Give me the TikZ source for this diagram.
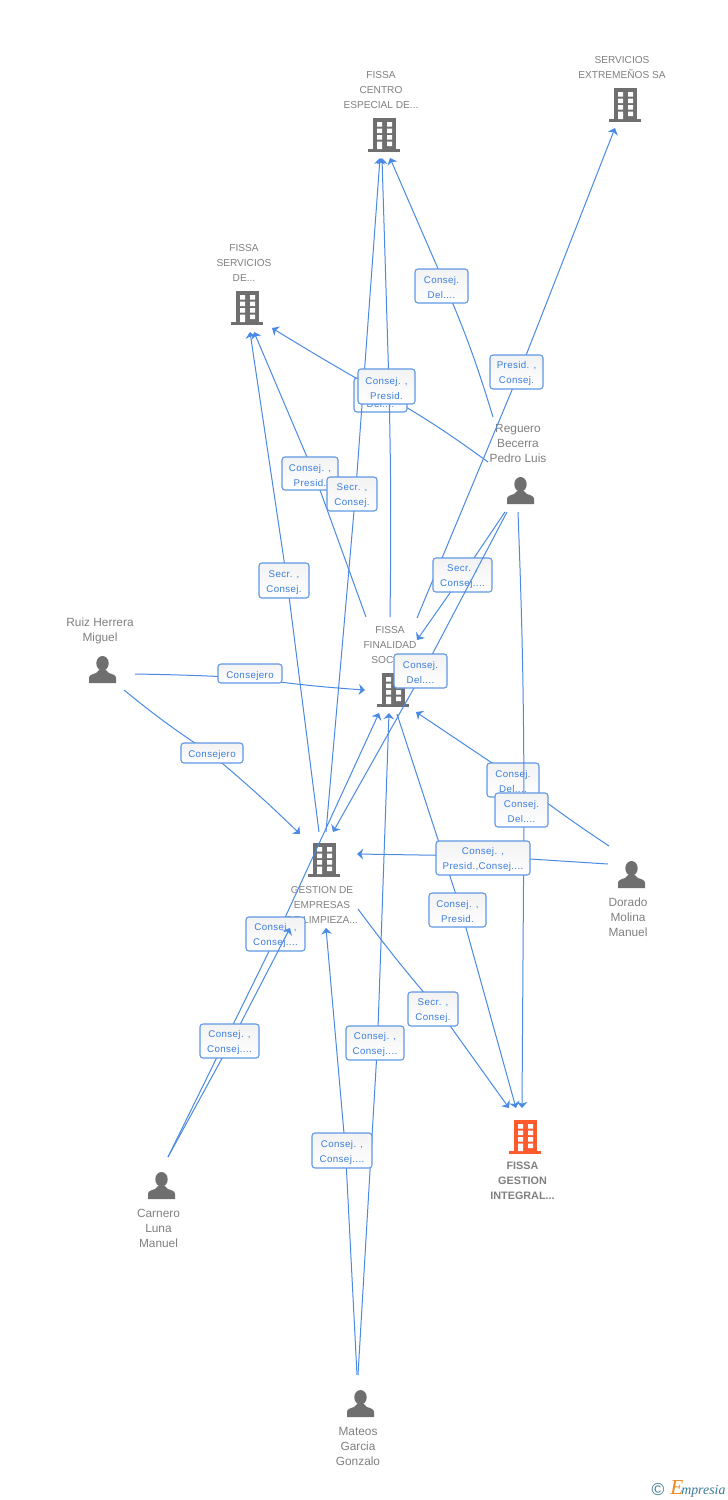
\documentclass[tikz,border=0pt]{standalone}
\usepackage{fontspec}
\setmainfont{Liberation Sans}
\newfontfamily\labfont[LetterSpace=4]{Liberation Sans}
\newfontfamily\logofont{Liberation Serif}
\usetikzlibrary{arrows.meta}
\definecolor{linkblue}{HTML}{4A8AE4}
\definecolor{labtext}{HTML}{3B7DDD}
\definecolor{labborder}{HTML}{5F97E4}
\definecolor{icongray}{HTML}{6F6F6F}
\definecolor{nametext}{HTML}{808080}
\definecolor{targetred}{HTML}{FF5A2C}
\definecolor{logoteal}{HTML}{3A7A94}
\definecolor{logoorange}{HTML}{F08A1D}
\pgfdeclarelayer{e1}\pgfdeclarelayer{l1}\pgfdeclarelayer{e2}\pgfdeclarelayer{l2}
\pgfdeclarelayer{e3}\pgfdeclarelayer{l3}\pgfdeclarelayer{e4}\pgfdeclarelayer{l4}
\pgfdeclarelayer{e5}\pgfdeclarelayer{l5}\pgfdeclarelayer{e6}\pgfdeclarelayer{l6}
\pgfdeclarelayer{e7}\pgfdeclarelayer{l7}\pgfdeclarelayer{e8}\pgfdeclarelayer{l8}
\pgfdeclarelayer{e9}\pgfdeclarelayer{l9}\pgfdeclarelayer{e10}\pgfdeclarelayer{l10}
\pgfdeclarelayer{e11}\pgfdeclarelayer{l11}\pgfdeclarelayer{e12}\pgfdeclarelayer{l12}
\pgfdeclarelayer{e13}\pgfdeclarelayer{l13}\pgfdeclarelayer{e14}\pgfdeclarelayer{l14}
\pgfdeclarelayer{e15}\pgfdeclarelayer{l15}\pgfdeclarelayer{e16}\pgfdeclarelayer{l16}
\pgfdeclarelayer{e17}\pgfdeclarelayer{l17}\pgfdeclarelayer{e18}\pgfdeclarelayer{l18}
\pgfdeclarelayer{e19}\pgfdeclarelayer{l19}\pgfdeclarelayer{e20}\pgfdeclarelayer{l20}
\pgfsetlayers{main,e1,l1,e2,l2,e3,l3,e4,l4,e5,l5,e6,l6,e7,l7,e8,l8,e9,l9,e10,l10,e11,l11,e12,l12,e13,l13,e14,l14,e15,l15,e16,l16,e17,l17,e18,l18,e19,l19,e20,l20}
\tikzset{
  linkline/.style={draw=linkblue,line width=0.75pt},
  linktip/.style={linkline,-{Stealth[length=4.6pt,width=8pt,inset=1.4pt]}},
  relbox/.style={draw=labborder,line width=0.8pt,rounded corners=2.2pt,top color=black!5,bottom color=white,
    text=labtext,inner sep=0pt,align=center,font=\labfont\fontsize{7.3}{11.25}\selectfont},
  entity/.style={text=nametext,inner sep=0pt,align=center,font=\fontsize{7.6}{11.25}\selectfont},
  entitybold/.style={entity,font=\bfseries\fontsize{8.1}{11.25}\selectfont},
  personname/.style={text=nametext,inner sep=0pt,align=center,font=\fontsize{8.9}{11.25}\selectfont},
}
\newcommand\liftA{\rule{0pt}{8.3pt}}
\newcommand\liftB{\rule{0pt}{7.8pt}}
\newcommand\relbox[6]{% layer, x0,y0,x1,y1, text
  \begin{pgfonlayer}{l#1}
  \node[relbox,minimum width={(#4-#2)*0.75pt},minimum height={(#5-#3)*0.75pt}] (L#1) at ({(#2+#4)/2},{(#3+#5)/2}) {#6};
  \end{pgfonlayer}}
\newcommand\relline[6]{% layer, start, bend in, bend out, end, offset of the crossing point from the box centre
  \begin{pgfonlayer}{e#1}
  \draw[linkline] (#2) to[#3] ([shift={(#6)}]L#1.center);
  \draw[linktip] ([shift={(#6)}]L#1.center) to[#4] (#5);
  \end{pgfonlayer}}
\newcommand\buildingicon[4]{% name, x, y, colour
  \begin{scope}[shift={(#2,#3)}]
  \fill[#4] (5,0) rectangle (28,31);
  \fill[#4] (0,31) rectangle (32,34);
  \fill[white] (9,4) rectangle (14,8.5) (19,4) rectangle (24,8.5)
    (9,10.5) rectangle (14,15) (19,10.5) rectangle (24,15)
    (9,17) rectangle (14,21.5) (19,17) rectangle (24,21.5)
    (9,23.5) rectangle (14,31) (19,23.5) rectangle (24,28);
  \coordinate (#1) at (16,17);
  \end{scope}}
\newcommand\personicon[3]{% name, x, y
  \begin{scope}[shift={(#2,#3)}]
  \fill[icongray] (13.5,7.3) ellipse (6.2 and 7.3);
  \fill[icongray] (0,27) -- (0,22) .. controls (0,19) and (3,18.5) .. (7,17) -- (10,14) -- (17,14) -- (20,17)
     .. controls (24,18.5) and (27,19) .. (27,22) -- (27,27) -- cycle;
  \coordinate (#1) at (13.5,13.5);
  \end{scope}}
\begin{document}
\begin{tikzpicture}[x=0.75pt,y=-0.75pt]
\useasboundingbox (0,0) rectangle (728,1500);
\fill[white] (0,0) rectangle (728,1500);
% entities
\buildingicon{iCentro}{368}{118}{icongray}
\buildingicon{iServ}{231}{291}{icongray}
\buildingicon{iExtr}{609}{88}{icongray}
\buildingicon{iFinal}{377}{673}{icongray}
\buildingicon{iGest}{308}{843}{icongray}
\buildingicon{iInteg}{509}{1120}{targetred}
\personicon{iRuiz}{89}{656}
\personicon{iReg}{507}{477}
\personicon{iDor}{618}{861}
\personicon{iCarn}{148}{1172}
\personicon{iMat}{347}{1390}
\node[entity] (tCentro) at (381,90) {FISSA\\CENTRO\\ESPECIAL DE...};
\node[entity] (tExtr) at (622,67.5) {SERVICIOS\\EXTREMEÑOS SA};
\node[entity] (tServ) at (244,263) {FISSA\\SERVICIOS\\DE...};
\node[entity] (tFinal) at (390,645) {FISSA\\FINALIDAD\\SOCIAL};
\node[entity] (tGest) at (322,905) {GESTION DE\\EMPRESAS\\DE LIMPIEZA...};
\node[entitybold] (tInteg) at (522.5,1181) {FISSA\\GESTION\\INTEGRAL...};
\node[personname] (tRuiz) at (100,630.5) {Ruiz Herrera\\Miguel};
\node[personname] (tReg) at (518,443) {Reguero\\Becerra\\Pedro Luis};
\node[personname] (tDor) at (628,917) {Dorado\\Molina\\Manuel};
\node[personname] (tCarn) at (158.5,1228) {Carnero\\Luna\\Manuel};
\node[personname] (tMat) at (358,1446) {Mateos\\Garcia\\Gonzalo};
% connector free ends
\coordinate (ruizA) at (135,674);
\coordinate (ruizB) at (124,690);
\coordinate (regA) at (493,417);
\coordinate (regB) at (488,462);
\coordinate (regC) at (505,512);
\coordinate (regD) at (507,512);
\coordinate (regE) at (518,512);
\coordinate (dorA) at (609,846);
\coordinate (dorB) at (608,864);
\coordinate (carnA) at (168,1157);
\coordinate (matA) at (358,1375);
\coordinate (matB) at (357,1375);
\coordinate (finA) at (417,618);
\coordinate (finB) at (390,617);
\coordinate (finC) at (366,617);
\coordinate (finD) at (397,714);
\coordinate (gesA) at (319,832);
\coordinate (gesB) at (326,832);
\coordinate (gesC) at (358,909);
\coordinate (toCentroA) at (380,158);
\coordinate (toCentroB) at (382,158);
\coordinate (toCentroC) at (390,158);
\coordinate (toServA) at (250,332);
\coordinate (toServB) at (254,332);
\coordinate (toServC) at (272,328);
\coordinate (toExtr) at (615,128);
\coordinate (toFinA) at (365,690);
\coordinate (toFinB) at (417,640);
\coordinate (toFinC) at (416,712);
\coordinate (toFinD) at (379,713);
\coordinate (toFinE) at (389,713);
\coordinate (toGesA) at (300,834);
\coordinate (toGesB) at (333,832);
\coordinate (toGesC) at (357,854);
\coordinate (toGesD) at (326,928);
\coordinate (toCarn) at (290,928);
\coordinate (toIntA) at (509,1108);
\coordinate (toIntB) at (516,1108);
\coordinate (toIntC) at (522,1108);
% relation labels, bottom to top
\relbox{1}{218}{664}{282}{683}{\liftA Consejero}
\relline{1}{ruizA}{bend left=1}{bend right=2}{toFinA}{0,4.5}
\relbox{2}{181}{743}{243}{763}{\liftA Consejero}
\relline{2}{ruizB}{bend right=3}{bend left=2}{toGesA}{-2,0}
\relbox{3}{259}{563}{309}{598}{\liftB Secr. ,\\Consej.}
\relline{3}{gesA}{}{}{toServA}{3,0}
\relbox{4}{282}{457}{338}{490}{\liftB Consej. ,\\Presid.}
\relline{4}{finC}{}{}{toServB}{4,0}
\relbox{5}{354}{378}{407}{412}{\liftB Consej.\\Del....}
\relline{5}{regB}{bend right=3}{bend left=1}{toServC}{0,-3}
\relbox{6}{327}{477}{377}{511}{\liftB Secr. ,\\Consej.}
\relline{6}{gesB}{}{}{toCentroA}{3.5,0}
\relbox{7}{358}{369}{415}{404}{\liftB Consej. ,\\Presid.}
\relline{7}{finB}{bend right=1}{}{toCentroB}{2.5,0}
\relbox{8}{415}{269}{468}{303}{\liftB Consej.\\Del....}
\relline{8}{regA}{bend right=3}{}{toCentroC}{4,0}
\relbox{9}{490}{355}{543}{389}{\liftB Presid. ,\\Consej.}
\relline{9}{finA}{}{}{toExtr}{3,0}
\relbox{10}{433}{558}{492}{592}{\liftB Secr. ,\\Consej....}
\relline{10}{regC}{}{}{toFinB}{0,0}
\relbox{11}{394}{654}{447}{688}{\liftB Consej.\\Del....}
\relline{11}{regD}{}{}{toGesB}{3,0}
\relbox{12}{487}{763}{539}{797}{\liftB Consej.\\Del....}
\relline{12}{dorA}{bend left=2}{}{toFinC}{0,-3}
\relbox{13}{495}{793}{548}{827}{\liftB Consej.\\Del....}
\relline{13}{regE}{bend left=1}{}{toIntC}{2.5,0}
\relbox{14}{429}{893}{486}{927}{\liftB Consej. ,\\Presid.}
\relline{14}{finD}{}{}{toIntB}{3.5,0}
\relbox{15}{436}{841}{530}{875}{\liftB Consej. ,\\Presid.,Consej....}
\relline{15}{dorB}{}{}{toGesC}{0,-2}
\relbox{16}{246}{917}{305}{951}{\liftB Consej. ,\\Consej....}
\relline{16}{carnA}{}{}{toFinD}{2,0}
\relbox{17}{200}{1024}{259}{1058}{\liftB Consej. ,\\Consej....}
\relline{17}{carnA}{}{}{toCarn}{2,0}
\relbox{18}{346}{1026}{404}{1060}{\liftB Consej. ,\\Consej....}
\relline{18}{matA}{}{}{toFinE}{2.5,0}
\relbox{19}{312}{1133}{372}{1168}{\liftB Consej. ,\\Consej....}
\relline{19}{matB}{}{}{toGesD}{3.5,0}
\relbox{20}{408}{992}{458}{1026}{\liftB Secr. ,\\Consej.}
\relline{20}{gesC}{bend right=2}{}{toIntA}{5,0}
% logo
\node[inner sep=0pt,text=logoteal,font=\fontsize{13}{14}\selectfont] (logoC) at (658,1489) {©};
\node[inner sep=0pt,anchor=base west,text=logoorange,font=\logofont\itshape\fontsize{16}{16}\selectfont] (logoE) at (670,1494) {E};
\node[inner sep=0pt,anchor=base west,text=logoteal,font=\logofont\itshape\fontsize{10.4}{12}\selectfont] (logoW) at (681,1494) {mpresia};
\end{tikzpicture}
\end{document}
